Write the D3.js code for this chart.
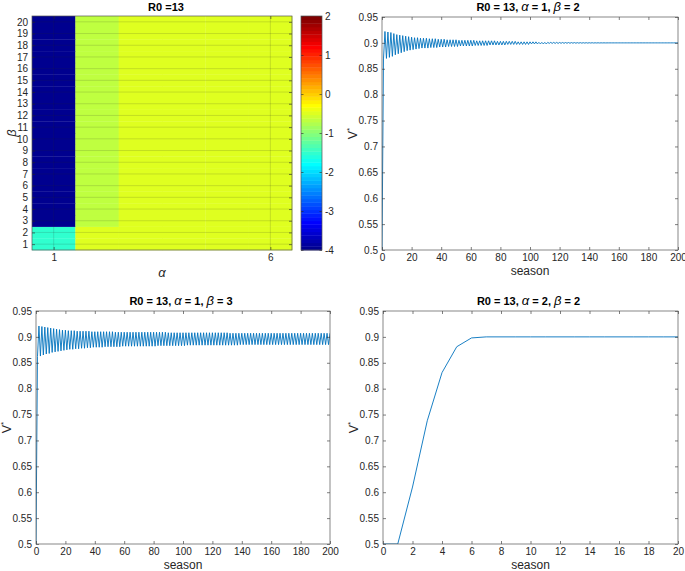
<!DOCTYPE html>
<html>
<head>
<meta charset="utf-8">
<script src="https://cdn.jsdelivr.net/npm/d3@7"></script>
<style>
  body { margin: 0; background: #fff; }
  svg { display: block; }
  text { font-family: "Liberation Sans", Arial, Helvetica, sans-serif; }
</style>
</head>
<body>
<svg width="685" height="571"></svg>
<script>
// ---- data ----
const alphaValues = [1, 2, 3, 4, 5, 6];
const betaValues = [1, 2, 3, 4, 5, 6, 7, 8, 9, 10, 11, 12, 13, 14, 15, 16, 17, 18, 19, 20];
const alphaTicks = [1, 6];
const colorbarTicks = [2, 1, 0, -1, -2, -3, -4];

// heatmap cells, one row per beta (1..20), one column per alpha (1..6)
const heatValues = [
  [-1.5, -0.5, -0.5, -0.5, -0.5, -0.5],
  [-1.5, -0.5, -0.5, -0.5, -0.5, -0.5],
  [-4, -0.65, -0.5, -0.5, -0.5, -0.5],
  [-4, -0.65, -0.5, -0.5, -0.5, -0.5],
  [-4, -0.65, -0.5, -0.5, -0.5, -0.5],
  [-4, -0.65, -0.5, -0.5, -0.5, -0.5],
  [-4, -0.65, -0.5, -0.5, -0.5, -0.5],
  [-4, -0.65, -0.5, -0.5, -0.5, -0.5],
  [-4, -0.65, -0.5, -0.5, -0.5, -0.5],
  [-4, -0.65, -0.5, -0.5, -0.5, -0.5],
  [-4, -0.65, -0.5, -0.5, -0.5, -0.5],
  [-4, -0.65, -0.5, -0.5, -0.5, -0.5],
  [-4, -0.65, -0.5, -0.5, -0.5, -0.5],
  [-4, -0.65, -0.5, -0.5, -0.5, -0.5],
  [-4, -0.65, -0.5, -0.5, -0.5, -0.5],
  [-4, -0.65, -0.5, -0.5, -0.5, -0.5],
  [-4, -0.65, -0.5, -0.5, -0.5, -0.5],
  [-4, -0.65, -0.5, -0.5, -0.5, -0.5],
  [-4, -0.65, -0.5, -0.5, -0.5, -0.5],
  [-4, -0.65, -0.5, -0.5, -0.5, -0.5]
];

const vTicks = [0.5, 0.55, 0.6, 0.65, 0.7, 0.75, 0.8, 0.85, 0.9, 0.95];
const seasonTicksLong = [0, 20, 40, 60, 80, 100, 120, 140, 160, 180, 200];
const seasonTicksShort = [0, 2, 4, 6, 8, 10, 12, 14, 16, 18, 20];

// V* per season 0..200, alpha = 1, beta = 2
const vAlpha1Beta2 = [
  0.500, 0.869, 0.922, 0.870, 0.921, 0.872, 0.920, 0.874, 0.918, 0.877,
  0.916, 0.879, 0.915, 0.881, 0.914, 0.883, 0.913, 0.885, 0.912, 0.886,
  0.911, 0.887, 0.910, 0.888, 0.910, 0.889, 0.909, 0.890, 0.909, 0.890,
  0.909, 0.890, 0.908, 0.891, 0.908, 0.891, 0.908, 0.891, 0.907, 0.892,
  0.907, 0.892, 0.907, 0.892, 0.906, 0.893, 0.906, 0.893, 0.906, 0.893,
  0.906, 0.893, 0.905, 0.894, 0.905, 0.894, 0.905, 0.894, 0.905, 0.894,
  0.905, 0.894, 0.905, 0.895, 0.904, 0.895, 0.904, 0.895, 0.904, 0.895,
  0.904, 0.895, 0.904, 0.896, 0.904, 0.896, 0.904, 0.896, 0.903, 0.896,
  0.903, 0.896, 0.903, 0.896, 0.903, 0.897, 0.903, 0.897, 0.903, 0.897,
  0.903, 0.897, 0.902, 0.897, 0.902, 0.897, 0.902, 0.897, 0.902, 0.897,
  0.902, 0.898, 0.902, 0.898, 0.902, 0.898, 0.901, 0.898, 0.901, 0.898,
  0.901, 0.898, 0.901, 0.899, 0.901, 0.899, 0.901, 0.899, 0.901, 0.899,
  0.9008, 0.8992, 0.9008, 0.8992, 0.9007, 0.8993, 0.9007, 0.8993, 0.9006, 0.8994,
  0.9006, 0.8994, 0.9005, 0.8995, 0.9005, 0.8995, 0.9004, 0.8996, 0.9004, 0.8996,
  0.9003, 0.8997, 0.9003, 0.8997, 0.9002, 0.8998, 0.9002, 0.8998, 0.9001, 0.8999,
  0.9001, 0.8999, 0.900, 0.900, 0.900, 0.900, 0.900, 0.900, 0.900, 0.900,
  0.900, 0.900, 0.900, 0.900, 0.900, 0.900, 0.900, 0.900, 0.900, 0.900,
  0.900, 0.900, 0.900, 0.900, 0.900, 0.900, 0.900, 0.900, 0.900, 0.900,
  0.900, 0.900, 0.900, 0.900, 0.900, 0.900, 0.900, 0.900, 0.900, 0.900,
  0.900, 0.900, 0.900, 0.900, 0.900, 0.900, 0.900, 0.900, 0.900, 0.900,
  0.900
];

// V* per season 0..200, alpha = 1, beta = 3
const vAlpha1Beta3 = [
  0.500, 0.862, 0.921, 0.863, 0.920, 0.865, 0.919, 0.867, 0.918, 0.868,
  0.917, 0.870, 0.916, 0.871, 0.915, 0.872, 0.914, 0.873, 0.913, 0.874,
  0.913, 0.875, 0.912, 0.876, 0.912, 0.876, 0.912, 0.877, 0.911, 0.877,
  0.911, 0.878, 0.911, 0.878, 0.911, 0.879, 0.911, 0.879, 0.910, 0.880,
  0.910, 0.880, 0.910, 0.880, 0.910, 0.880, 0.910, 0.881, 0.910, 0.881,
  0.910, 0.881, 0.910, 0.881, 0.909, 0.881, 0.909, 0.881, 0.909, 0.882,
  0.909, 0.882, 0.909, 0.882, 0.909, 0.882, 0.909, 0.882, 0.909, 0.882,
  0.909, 0.882, 0.909, 0.882, 0.909, 0.882, 0.909, 0.882, 0.909, 0.882,
  0.909, 0.882, 0.909, 0.883, 0.909, 0.883, 0.909, 0.883, 0.909, 0.883,
  0.908, 0.883, 0.908, 0.883, 0.908, 0.883, 0.908, 0.883, 0.908, 0.883,
  0.908, 0.883, 0.908, 0.884, 0.908, 0.884, 0.908, 0.884, 0.908, 0.884,
  0.908, 0.884, 0.908, 0.884, 0.908, 0.884, 0.908, 0.884, 0.908, 0.884,
  0.908, 0.884, 0.908, 0.884, 0.908, 0.884, 0.908, 0.884, 0.908, 0.884,
  0.908, 0.884, 0.907, 0.884, 0.907, 0.884, 0.907, 0.884, 0.907, 0.885,
  0.907, 0.885, 0.907, 0.885, 0.907, 0.885, 0.907, 0.885, 0.907, 0.885,
  0.907, 0.885, 0.907, 0.885, 0.907, 0.885, 0.907, 0.885, 0.907, 0.885,
  0.907, 0.885, 0.907, 0.885, 0.907, 0.885, 0.907, 0.885, 0.907, 0.885,
  0.907, 0.885, 0.907, 0.885, 0.907, 0.885, 0.907, 0.885, 0.907, 0.885,
  0.907, 0.885, 0.907, 0.885, 0.907, 0.885, 0.907, 0.885, 0.907, 0.885,
  0.907, 0.885, 0.907, 0.885, 0.907, 0.885, 0.907, 0.885, 0.907, 0.885,
  0.907
];

// V* per season 0..20, alpha = 2, beta = 2
const vAlpha2Beta2 = [
  0.500, 0.500, 0.610, 0.738, 0.831, 0.881, 0.898, 0.900, 0.900, 0.900,
  0.900, 0.900, 0.900, 0.900, 0.900, 0.900, 0.900, 0.900, 0.900, 0.900,
  0.900
];

// ---- drawing ----
const svg = d3.select("svg");
const textColor = "#262626";
const lineColor = "#0072bd";

// matlab-style jet colormap with m levels
function jetColormap(m) {
  const n = Math.ceil(m / 4);
  const u = [];
  for (let i = 1; i <= n; i++) u.push(i / n);
  for (let i = 1; i < n; i++) u.push(1);
  for (let i = n; i >= 1; i--) u.push(i / n);
  const gStart = Math.ceil(n / 2) - (m % 4 === 1 ? 1 : 0);
  const J = d3.range(m).map(() => [0, 0, 0]);
  u.forEach((val, k) => {
    const g = gStart + k + 1;
    const r = g + n, b = g - n;
    if (g >= 1 && g <= m) J[g - 1][1] = val;
    if (r >= 1 && r <= m) J[r - 1][0] = val;
    if (b >= 1 && b <= m) J[b - 1][2] = val;
  });
  return J.map(c => d3.rgb(c[0] * 255, c[1] * 255, c[2] * 255).formatHex());
}

const jet = jetColormap(64);
const color = d3.scaleQuantize().domain([-4, 2]).range(jet);

function styleAxis(g, fontSize) {
  g.attr("font-family", null).attr("font-size", null);
  g.select(".domain").remove();
  g.selectAll(".tick line").attr("stroke", textColor).attr("stroke-width", 0.6);
  g.selectAll(".tick text").attr("fill", textColor).style("font-size", fontSize + "px");
}

function boxFrame(box) {
  svg.append("rect")
    .attr("x", box.x0).attr("y", box.y0)
    .attr("width", box.x1 - box.x0).attr("height", box.y1 - box.y0)
    .attr("fill", "none").attr("stroke", "#555").attr("stroke-width", 0.7);
}

function addTitle(box, cx, parts) {
  const t = svg.append("text")
    .attr("x", cx).attr("y", box.y0 - 6.5)
    .attr("text-anchor", "middle")
    .attr("fill", "#000")
    .style("font-size", "11px").style("font-weight", "bold");
  parts.forEach(p => {
    const s = t.append("tspan").text(p.text);
    if (p.greek) s.style("font-style", "italic").style("font-weight", "normal").style("font-size", "13px");
  });
}

// ---------- heatmap ----------
const heatBox = { x0: 32, x1: 292, y0: 16, y1: 250 };
const hx = d3.scaleLinear().domain([0.5, 6.5]).range([heatBox.x0, heatBox.x1]);
const hy = d3.scaleLinear().domain([0.5, 20.5]).range([heatBox.y1, heatBox.y0]);

const cells = [];
betaValues.forEach((b, i) => alphaValues.forEach((a, j) => cells.push({ a, b, v: heatValues[i][j] })));

svg.append("g").selectAll("rect")
  .data(cells)
  .join("rect")
  .attr("x", d => hx(d.a - 0.5))
  .attr("y", d => hy(d.b + 0.5))
  .attr("width", d => hx(d.a + 0.5) - hx(d.a - 0.5) + 0.3)
  .attr("height", d => hy(d.b - 0.5) - hy(d.b + 0.5) + 0.3)
  .attr("fill", d => color(d.v));

// grid lines at ticks
const grid = svg.append("g").attr("stroke", "#262626").attr("stroke-opacity", 0.22).attr("stroke-width", 0.7);
grid.selectAll("line.h").data(betaValues).join("line").attr("class", "h")
  .attr("x1", heatBox.x0).attr("x2", heatBox.x1)
  .attr("y1", d => hy(d)).attr("y2", d => hy(d));
grid.selectAll("line.v").data(alphaTicks).join("line").attr("class", "v")
  .attr("y1", heatBox.y0).attr("y2", heatBox.y1)
  .attr("x1", d => hx(d)).attr("x2", d => hx(d));

svg.append("g").attr("transform", `translate(0,${heatBox.y1})`)
  .call(d3.axisBottom(hx).tickValues(alphaTicks).tickSize(-3).tickPadding(4).tickFormat(d3.format("d")))
  .call(g => styleAxis(g, 10));
svg.append("g").attr("transform", `translate(0,${heatBox.y0})`)
  .call(d3.axisTop(hx).tickValues(alphaTicks).tickSize(-3).tickFormat(""))
  .call(g => styleAxis(g, 10));
svg.append("g").attr("transform", `translate(${heatBox.x0},0)`)
  .call(d3.axisLeft(hy).tickValues(betaValues).tickSize(-3).tickPadding(4).tickFormat(d3.format("d")))
  .call(g => styleAxis(g, 10));
svg.append("g").attr("transform", `translate(${heatBox.x1},0)`)
  .call(d3.axisRight(hy).tickValues(betaValues).tickSize(-3).tickFormat(""))
  .call(g => styleAxis(g, 10));
boxFrame(heatBox);

svg.append("text").attr("x", 166).attr("y", heatBox.y0 - 5.5)
  .attr("text-anchor", "middle").style("font-size", "11px").style("font-weight", "bold")
  .text("R0 =13");
svg.append("text").attr("x", 162).attr("y", 277)
  .attr("text-anchor", "middle").style("font-size", "13px").style("font-style", "italic")
  .attr("fill", textColor).text("α");
svg.append("text").attr("transform", `translate(${heatBox.x0 - 16},${(heatBox.y0 + heatBox.y1) / 2}) rotate(-90)`)
  .attr("text-anchor", "middle").style("font-size", "13px").style("font-style", "italic")
  .attr("fill", textColor).text("β");

// colorbar
const cbBox = { x0: 301, x1: 322, y0: 16, y1: 250 };
const cy = d3.scaleLinear().domain([-4, 2]).range([cbBox.y1, cbBox.y0]);
const levels = jet.map((c, k) => ({ c, lo: -4 + k * 6 / jet.length, hi: -4 + (k + 1) * 6 / jet.length }));
svg.append("g").selectAll("rect")
  .data(levels)
  .join("rect")
  .attr("x", cbBox.x0).attr("width", cbBox.x1 - cbBox.x0)
  .attr("y", d => cy(d.hi)).attr("height", d => cy(d.lo) - cy(d.hi) + 0.4)
  .attr("fill", d => d.c);
svg.append("g").attr("transform", `translate(${cbBox.x1},0)`)
  .call(d3.axisRight(cy).tickValues(colorbarTicks).tickSize(-2.5).tickPadding(3).tickFormat(d => String(d)))
  .call(g => styleAxis(g, 10));
svg.append("g").attr("transform", `translate(${cbBox.x0},0)`)
  .call(d3.axisLeft(cy).tickValues(colorbarTicks).tickSize(-2.5).tickFormat(""))
  .call(g => styleAxis(g, 10));
boxFrame(cbBox);

// ---------- line panels ----------
let clipId = 0;
function linePanel(box, xDomain, xTicks, values, titleParts) {
  const x = d3.scaleLinear().domain(xDomain).range([box.x0, box.x1]);
  const y = d3.scaleLinear().domain([0.5, 0.95]).range([box.y1, box.y0]);

  const id = "clip" + (clipId++);
  svg.append("clipPath").attr("id", id).append("rect")
    .attr("x", box.x0).attr("y", box.y0)
    .attr("width", box.x1 - box.x0).attr("height", box.y1 - box.y0);

  svg.append("path")
    .datum(values)
    .attr("clip-path", `url(#${id})`)
    .attr("fill", "none")
    .attr("stroke", lineColor)
    .attr("stroke-width", 0.9)
    .attr("d", d3.line().x((d, i) => x(i)).y(d => y(d)));

  svg.append("g").attr("transform", `translate(0,${box.y1})`)
    .call(d3.axisBottom(x).tickValues(xTicks).tickSize(-3).tickPadding(4).tickFormat(d3.format("d")))
    .call(g => styleAxis(g, 10));
  svg.append("g").attr("transform", `translate(0,${box.y0})`)
    .call(d3.axisTop(x).tickValues(xTicks).tickSize(-3).tickFormat(""))
    .call(g => styleAxis(g, 10));
  svg.append("g").attr("transform", `translate(${box.x0},0)`)
    .call(d3.axisLeft(y).tickValues(vTicks).tickSize(-3).tickPadding(4).tickFormat(d => String(d)))
    .call(g => styleAxis(g, 10));
  svg.append("g").attr("transform", `translate(${box.x1},0)`)
    .call(d3.axisRight(y).tickValues(vTicks).tickSize(-3).tickFormat(""))
    .call(g => styleAxis(g, 10));
  boxFrame(box);

  addTitle(box, (box.x0 + box.x1) / 2 - 2, titleParts);

  svg.append("text").attr("x", (box.x0 + box.x1) / 2).attr("y", box.y1 + 24.5)
    .attr("text-anchor", "middle").attr("fill", textColor).style("font-size", "12px")
    .text("season");

  const yl = svg.append("text")
    .attr("transform", `translate(${box.x0 - 25},${(box.y0 + box.y1) / 2}) rotate(-90)`)
    .attr("text-anchor", "middle").attr("fill", textColor).style("font-size", "12.5px");
  yl.append("tspan").text("V");
  yl.append("tspan").attr("dy", -5).style("font-size", "8px").text("*");
}

linePanel({ x0: 382, x1: 678, y0: 17, y1: 250 }, [0, 200], seasonTicksLong, vAlpha1Beta2,
  [{ text: "R0 = 13, " }, { text: "α", greek: true }, { text: " = 1, " }, { text: "β", greek: true }, { text: " = 2" }]);
linePanel({ x0: 36, x1: 330, y0: 311, y1: 544 }, [0, 200], seasonTicksLong, vAlpha1Beta3,
  [{ text: "R0 = 13, " }, { text: "α", greek: true }, { text: " = 1, " }, { text: "β", greek: true }, { text: " = 3" }]);
linePanel({ x0: 383, x1: 678, y0: 311, y1: 544 }, [0, 20], seasonTicksShort, vAlpha2Beta2,
  [{ text: "R0 = 13, " }, { text: "α", greek: true }, { text: " = 2, " }, { text: "β", greek: true }, { text: " = 2" }]);
</script>
</body>
</html>
